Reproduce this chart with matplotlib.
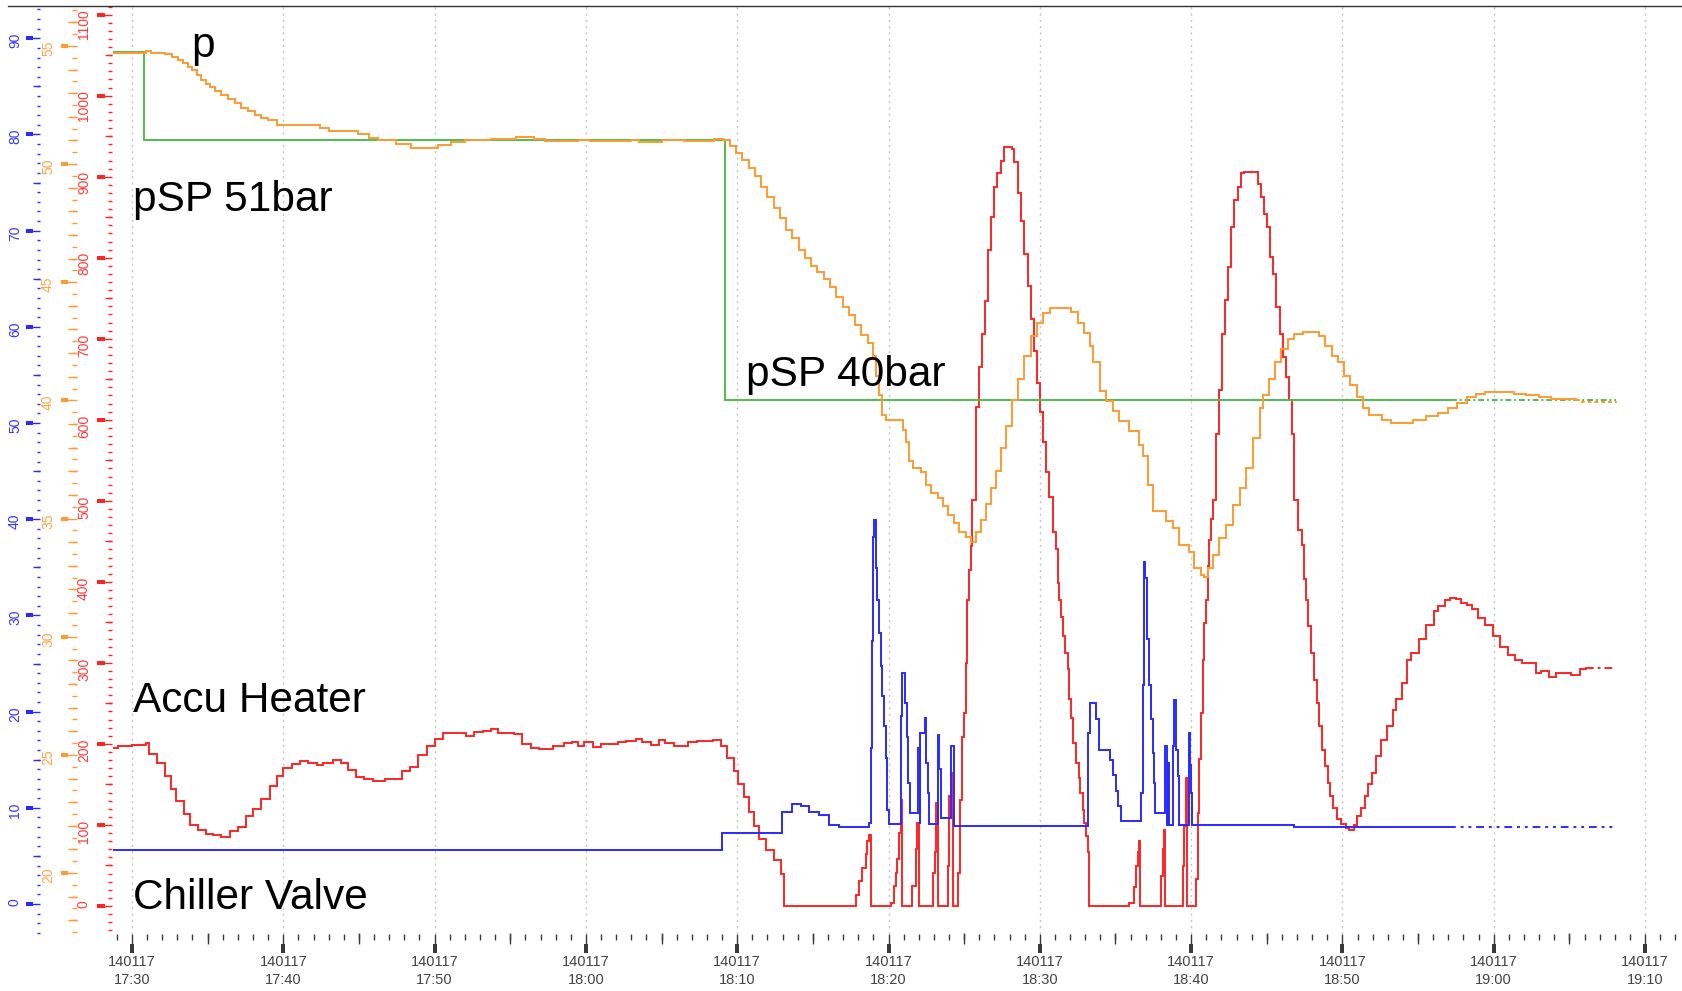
import matplotlib
matplotlib.use("Agg")
import matplotlib.pyplot as plt
from matplotlib.ticker import MultipleLocator, FixedLocator, FixedFormatter, FuncFormatter
from matplotlib.lines import Line2D
from matplotlib import font_manager

# ---------------- data (minutes after 17:30, value) ----------------
date_label = "140117"
tick_minutes = [0, 10, 20, 30, 40, 50, 60, 70, 80, 90, 100]
tick_clock = ["17:30", "17:40", "17:50", "18:00", "18:10", "18:20", "18:30",
              "18:40", "18:50", "19:00", "19:10"]

# Accu Heater (red axis, 0..1100)
heater_pts = [
    (-1.2, 195), (-0.9, 197), (-0.55, 198), (0, 199), (0.9, 201), (1.1, 188), (1.65, 177),
    (2.19, 161), (2.6, 144), (2.88, 130), (3.43, 114), (3.84, 100), (4.39, 94), (4.88, 89),
    (5.35, 87), (5.9, 85.5), (6.45, 93), (7.0, 98), (7.54, 111), (8.01, 120), (8.56, 132),
    (9.11, 148), (9.6, 161), (10.01, 170), (10.56, 175), (11.11, 179), (11.66, 177),
    (12.21, 174), (12.62, 177), (13.31, 180), (13.8, 177), (14.27, 168), (14.81, 159),
    (15.36, 157), (15.91, 154), (16.74, 157), (17.83, 167), (18.38, 172), (18.93, 186),
    (19.48, 198), (20.03, 206), (20.58, 213), (21.12, 214), (22.09, 210), (22.63, 215),
    (23.18, 216.5), (23.73, 219), (24.2, 213.5), (25.24, 212), (25.79, 200), (26.34, 195),
    (26.89, 194), (27.85, 198), (28.53, 201), (29.08, 202), (29.49, 197), (29.9, 202),
    (30.45, 196), (31.0, 200), (32.1, 202), (32.65, 204), (33.33, 206), (33.74, 202),
    (34.29, 199), (34.84, 205), (35.25, 201), (35.8, 197), (36.21, 198), (36.76, 202),
    (37.31, 203), (38.41, 205), (38.9, 198), (39.34, 182), (39.78, 166), (40.05, 151),
    (40.44, 134), (40.77, 116), (41.1, 99), (41.43, 83), (41.88, 69), (42.43, 57),
    (42.87, 40), (43.09, 0),
    (47.83, 14), (48.05, 31), (48.27, 47), (48.49, 64), (48.6, 80), (48.71, 88), (48.82, 0),
    (50.15, 4), (50.37, 25), (50.48, 41), (50.59, 58), (50.7, 90), (50.81, 131), (50.88, 0),
    (51.58, 25), (51.8, 70), (51.91, 103), (52.02, 0),
    (52.91, 41), (53.08, 66), (53.17, 127), (53.24, 0),
    (53.9, 49), (54.01, 136), (54.16, 164), (54.23, 0),
    (54.56, 41), (54.71, 131), (54.89, 209), (55.0, 238), (55.11, 300), (55.22, 378),
    (55.33, 415), (55.44, 444), (55.55, 501), (55.75, 616), (55.96, 665), (56.16, 706),
    (56.37, 747), (56.58, 809), (56.79, 850), (56.99, 887), (57.2, 905), (57.41, 920),
    (57.61, 937), (58.15, 934), (58.28, 918), (58.57, 880), (58.77, 845), (58.98, 805),
    (59.19, 765), (59.39, 725), (59.6, 685), (59.81, 645), (60.02, 610), (60.22, 572),
    (60.43, 535), (60.63, 505), (60.85, 462), (61.07, 440), (61.18, 398), (61.29, 378),
    (61.4, 357), (61.51, 333), (61.69, 312), (61.84, 292), (61.95, 255), (62.06, 232),
    (62.21, 201), (62.39, 177), (62.57, 158), (62.68, 140), (62.83, 119), (62.94, 103),
    (63.05, 86), (63.16, 66), (63.23, 0),
    (65.92, 4), (66.25, 23), (66.36, 49), (66.47, 66), (66.58, 80), (66.65, 0),
    (68.02, 37), (68.13, 70), (68.2, 94), (68.26, 0),
    (69.45, 49), (69.56, 99), (69.67, 158), (69.74, 0),
    (70.33, 33), (70.44, 115), (70.55, 181), (70.66, 238), (70.77, 304), (70.88, 349),
    (70.99, 378), (71.1, 419), (71.21, 452), (71.33, 477), (71.44, 501), (71.62, 583),
    (71.83, 637), (72.04, 706), (72.24, 748), (72.45, 789), (72.66, 838), (72.86, 871),
    (73.07, 887), (73.28, 904), (73.49, 906), (74.23, 906), (74.4, 891), (74.6, 875),
    (74.81, 854), (75.02, 838), (75.23, 801), (75.43, 780), (75.64, 739), (75.85, 706),
    (76.06, 678), (76.26, 653), (76.47, 624), (76.68, 583), (76.82, 501), (77.06, 464),
    (77.31, 446), (77.43, 403), (77.6, 378), (77.73, 345), (77.92, 312), (78.12, 279),
    (78.29, 251), (78.46, 222), (78.66, 193), (78.85, 173), (79.03, 152), (79.2, 136),
    (79.39, 121), (79.64, 107), (79.88, 101), (80.25, 96.5), (80.42, 93.3), (80.74, 99.4),
    (80.99, 111), (81.23, 121), (81.48, 136), (81.72, 150), (81.97, 164), (82.21, 185),
    (82.58, 205), (82.95, 222), (83.32, 242), (83.56, 255), (83.93, 275), (84.3, 304),
    (84.55, 312), (85.04, 329), (85.53, 347), (86.02, 364), (86.31, 370), (86.75, 378),
    (87.12, 380), (87.49, 379), (87.86, 374), (88.22, 372), (88.59, 366), (88.96, 355),
    (89.45, 347), (89.94, 333), (90.43, 320), (90.92, 310), (91.41, 304), (91.9, 300),
    (92.39, 300), (92.76, 288), (93.13, 290), (93.62, 283), (94.11, 288), (95.09, 285),
    (95.71, 292), (96.07, 294), (98.1, 294),
]
heater_solid_end = 96.07

# Chiller Valve (blue axis, 0..90)
chiller_pts = [
    (-1.2, 5.6), (39.0, 7.4), (42.98, 9.6), (43.64, 10.4), (44.19, 10.15), (44.74, 9.56),
    (45.4, 9.3), (46.07, 8.2), (46.73, 8.0), (48.71, 8.4), (48.82, 16.2), (48.89, 27.3),
    (48.98, 38.2), (49.07, 39.9), (49.16, 34.9), (49.27, 31.6), (49.38, 28.2), (49.49, 24.7),
    (49.6, 21.6), (49.71, 18.5), (49.82, 15.2), (49.93, 9.8), (50.04, 8.35), (50.81, 19.5),
    (50.9, 24.0), (51.1, 20.9), (51.21, 17.4), (51.32, 12.6), (51.41, 9.46), (51.98, 16.2),
    (52.05, 8.3), (52.1, 17.8), (52.4, 19.3), (52.51, 14.7), (52.62, 11.5), (52.68, 8.35),
    (53.24, 17.6), (53.35, 14.0), (53.46, 8.94), (54.12, 16.4), (54.3, 8.07), (63.05, 8.07),
    (63.16, 17.8), (63.32, 20.9), (63.71, 19.2), (63.89, 17.4), (63.93, 16.0), (64.64, 15.0),
    (64.82, 13.4), (65.04, 11.7), (65.19, 10.15), (65.37, 8.6), (66.69, 11.5), (66.8, 22.8),
    (66.87, 35.6), (66.98, 33.9), (67.09, 27.5), (67.24, 22.8), (67.36, 19.2), (67.47, 15.7),
    (67.53, 12.6), (67.58, 9.46), (68.3, 16.4), (68.39, 8.25), (68.46, 14.7), (68.52, 11.5),
    (68.57, 8.25), (68.79, 16.4), (68.86, 21.2), (69.01, 16.0), (69.12, 13.3), (69.23, 8.25),
    (69.85, 17.8), (69.94, 14.5), (70.0, 11.5), (70.07, 8.2), (76.82, 8.0), (87.0, 8.0),
    (97.9, 8.0),
]
chiller_solid_end = 87.0

# p (orange axis, bar)
p_pts = [
    (-1.2, 54.72), (0.94, 54.79), (1.24, 54.72), (2.21, 54.64), (2.66, 54.53), (3.04, 54.42),
    (3.39, 54.28), (3.69, 54.11), (3.99, 53.97), (4.28, 53.78), (4.58, 53.57), (4.87, 53.40),
    (5.17, 53.26), (5.52, 53.09), (5.90, 52.91), (6.35, 52.74), (6.79, 52.60), (7.23, 52.38),
    (7.68, 52.24), (8.12, 52.06), (8.56, 51.96), (9.0, 51.85), (9.59, 51.64), (12.4, 51.54),
    (12.99, 51.40), (14.91, 51.28), (15.65, 51.11), (16.24, 51.03), (17.42, 50.83),
    (18.45, 50.69), (20.22, 50.79), (21.11, 50.93), (21.99, 51.03), (23.76, 51.07),
    (25.39, 51.14), (26.57, 51.04), (27.31, 50.97), (29.5, 51.0), (30.3, 50.97), (33.0, 51.0),
    (33.5, 50.95), (35.0, 51.0), (36.5, 50.97), (37.4, 50.99), (38.47, 51.05), (39.09, 51.0),
    (39.5, 50.75), (39.92, 50.48), (40.33, 50.19), (40.75, 49.85), (41.16, 49.5),
    (41.57, 49.02), (41.99, 48.6), (42.4, 48.12), (42.82, 47.7), (43.23, 47.22),
    (43.65, 46.87), (44.06, 46.38), (44.48, 46.04), (44.89, 45.69), (45.3, 45.42),
    (45.72, 45.14), (46.13, 44.79), (46.55, 44.38), (46.96, 43.96), (47.38, 43.61),
    (47.79, 43.2), (48.21, 42.78), (48.62, 42.44), (48.95, 41.88), (49.16, 41.05),
    (49.37, 40.22), (49.6, 39.39), (49.82, 39.18), (50.6, 39.18), (50.93, 38.76),
    (51.15, 38.26), (51.37, 37.42), (51.59, 37.13), (52.14, 36.99), (52.47, 36.43),
    (52.8, 36.07), (53.24, 35.86), (53.57, 35.51), (53.9, 35.16), (54.34, 34.8),
    (54.67, 34.45), (55.12, 34.24), (55.45, 34.0), (55.78, 34.45), (56.11, 34.95),
    (56.44, 35.6), (56.77, 36.3), (57.1, 37.0), (57.43, 38.0), (57.76, 38.9), (58.15, 40.0),
    (58.57, 40.91), (58.98, 41.88), (59.39, 42.72), (59.81, 43.27), (60.22, 43.68),
    (60.64, 43.89), (61.67, 43.89), (62.09, 43.75), (62.5, 43.27), (62.92, 42.85),
    (63.33, 42.3), (63.54, 41.61), (63.95, 40.4), (64.38, 39.96), (64.82, 39.53),
    (65.26, 39.11), (65.92, 38.69), (66.58, 38.12), (66.8, 37.63), (67.13, 36.43),
    (67.46, 35.3), (68.35, 34.9), (68.79, 34.59), (69.23, 33.88), (69.89, 33.6),
    (70.22, 32.9), (70.66, 32.61), (70.88, 32.54), (71.1, 32.9), (71.43, 33.47),
    (71.87, 34.17), (72.32, 34.73), (72.76, 35.58), (73.2, 36.29), (73.64, 37.13),
    (74.08, 38.4), (74.52, 39.67), (74.74, 40.24), (75.14, 40.91), (75.56, 41.61),
    (75.97, 42.16), (76.39, 42.58), (76.8, 42.83), (77.42, 42.89), (78.46, 42.72),
    (78.87, 42.3), (79.29, 41.88), (79.7, 41.61), (80.12, 41.05), (80.53, 40.64),
    (80.95, 40.15), (81.36, 39.67), (81.78, 39.39), (82.6, 39.18), (83.22, 39.04),
    (84.67, 39.18), (85.5, 39.32), (86.33, 39.46), (86.95, 39.67), (87.57, 39.88),
    (88.2, 40.15), (88.82, 40.29), (89.44, 40.36), (91.31, 40.25), (92.13, 40.22),
    (92.96, 40.15), (93.79, 40.06), (95.45, 40.0), (95.86, 39.92), (98.1, 39.87),
]
p_solid_end = 95.45

# pSP set point (orange axis, bar)
psp_pts = [(-1.2, 54.76), (0.78, 51.0), (39.18, 40.0), (87.2, 40.0), (98.1, 40.0)]
psp_solid_end = 87.2

# ---------------- styling ----------------
W, H = 1682, 991
PT = 72.0 / 100.0  # points per pixel at dpi 100

names = {f.name for f in font_manager.fontManager.ttflist}
narrow = "Liberation Sans Narrow" if "Liberation Sans Narrow" in names else "Liberation Sans"
plt.rcParams["font.family"] = [narrow, "DejaVu Sans"]

C_RED, C_BLUE, C_OR, C_GREEN = "#ff2424", "#2a2aff", "#ff9a30", "#4cc04c"
L_RED, L_BLUE, L_OR = "#ff3a3a", "#3535ff", "#ffa548"
DARK = "#3a3a3a"

fig = plt.figure(figsize=(W / 100, H / 100), dpi=100)
left_px, right_px, top_px, bottom_px = 112, 1680, 5.5, 934
ax = fig.add_axes([left_px / W, 1 - bottom_px / H,
                   (right_px - left_px) / W, (bottom_px - top_px) / H])
ax.set_xlim(-1.32, 102.31)

red_lim = (-34.6, 1111.3)
blue_lim = (-3.12, 93.41)
or_lim = (17.42, 56.71)

ax_blue = ax.twinx()
ax_blue_b = ax.twinx()
ax_or = ax.twinx()
ax_or_b = ax.twinx()
ax_red_b = ax.twinx()
ax_x = ax.twiny()

for a in (ax, ax_blue, ax_blue_b, ax_or, ax_or_b, ax_red_b, ax_x):
    for s in a.spines.values():
        s.set_visible(False)


def y_axis(a, b, lim, off_a, off_b, minor, mid, major, len_major, len_minor,
           len_block, len_mid, tcolor, lcolor, pad, fsize):
    for q in (a, b):
        q.set_ylim(*lim)
        q.yaxis.set_ticks_position("left")
    a.spines["left"].set_position(("outward", off_a * PT))
    a.yaxis.set_major_locator(MultipleLocator(major))
    a.yaxis.set_minor_locator(MultipleLocator(minor))
    a.yaxis.set_major_formatter(FuncFormatter(lambda v, p: f"{v:.0f}"))
    a.tick_params(axis="y", which="major", direction="out", length=len_major * PT,
                  width=1.0, color=tcolor, labelcolor=lcolor, pad=pad * PT,
                  labelsize=fsize, labelrotation=90, left=True, right=False,
                  labelleft=True, labelright=False)
    a.tick_params(axis="y", which="minor", direction="out", length=len_minor * PT,
                  width=1.0, color=tcolor, left=True, right=False)
    b.spines["left"].set_position(("outward", off_b * PT))
    b.yaxis.set_major_locator(MultipleLocator(major))
    b.yaxis.set_minor_locator(MultipleLocator(mid))
    b.tick_params(axis="y", which="major", direction="out", length=len_block * PT,
                  width=4 * PT, color=tcolor, left=True, right=False,
                  labelleft=False, labelright=False)
    b.tick_params(axis="y", which="minor", direction="in", length=len_mid * PT,
                  width=1.0, color=tcolor, left=True, right=False)


y_axis(ax_blue, ax_blue_b, blue_lim, 72, 79, 1, 5, 10, 14, 3, 7, 7,
       C_BLUE, L_BLUE, 4, 10)
y_axis(ax_or, ax_or_b, or_lim, 35, 44, 0.5, 1, 5, 16, 5, 7, 9,
       C_OR, L_OR, 6, 10)
y_axis(ax, ax_red_b, red_lim, 0, 7, 10, 50, 100, 15, 4, 8, 7,
       C_RED, L_RED, 6, 10)

# x axis: thin ticks + grid on main, thick blocks + labels on a twin
ax.xaxis.set_major_locator(FixedLocator(tick_minutes))
ax.xaxis.set_minor_locator(MultipleLocator(1))
ax.tick_params(axis="x", which="major", direction="out", length=11 * PT, width=1.0,
               color=DARK, labelbottom=False)
ax.tick_params(axis="x", which="minor", direction="out", length=6 * PT, width=1.0,
               color=DARK)
ax.grid(axis="x", which="major", color="#c4c4c4", linestyle=(0, (1.5, 3)), linewidth=1.0)

ax_x.set_xlim(ax.get_xlim())
ax_x.xaxis.set_ticks_position("bottom")
ax_x.xaxis.set_label_position("bottom")
ax_x.spines["bottom"].set_position(("outward", 10 * PT))
ax_x.xaxis.set_major_locator(FixedLocator(tick_minutes))
ax_x.xaxis.set_major_formatter(FixedFormatter([f"{date_label}\n{c}" for c in tick_clock]))
ax_x.xaxis.set_minor_locator(MultipleLocator(5))
ax_x.tick_params(axis="x", which="major", direction="out", length=9 * PT, width=4 * PT,
                 color=DARK, labelcolor="#444444", labelsize=10.5, pad=2 * PT,
                 bottom=True, top=False, labelbottom=True, labeltop=False)
ax_x.tick_params(axis="x", which="minor", direction="in", length=11 * PT, width=1.0,
                 color=DARK, bottom=True, top=False)
for lab in ax_x.get_xticklabels():
    lab.set_linespacing(1.4)


def draw(a, pts, t_end, color, tail_style):
    solid = [(t, v) for t, v in pts if t <= t_end]
    tail = [(t, v) for t, v in pts if t >= t_end]
    ts, vs = zip(*solid)
    a.plot(ts, vs, drawstyle="steps-post", color=color, lw=1.4, solid_joinstyle="miter")
    if len(tail) > 1:
        tt, tv = zip(*tail)
        a.plot(tt, tv, drawstyle="steps-post", color=color, lw=1.4, linestyle=tail_style)


draw(ax, heater_pts, heater_solid_end, C_RED, (0, (4, 2, 1.5, 2)))
draw(ax_blue, chiller_pts, chiller_solid_end, C_BLUE, (0, (4, 2.5, 1.5, 2.5, 1.5, 2.5)))
draw(ax_or, psp_pts, psp_solid_end, C_GREEN, (0, (3, 1.5, 1, 1.5)))
draw(ax_or, p_pts, p_solid_end, C_OR, (0, (2, 1.5)))

# annotations
big = dict(fontsize=30.5, color="black", family=["Liberation Sans", "DejaVu Sans"],
           va="baseline", ha="left")
ax_or.text(3.95, 54.55, "p", **big)
ax_or.text(0.07, 48.02, "pSP 51bar", **big)
ax_or.text(40.58, 40.61, "pSP 40bar", **big)
ax.text(0.07, 239.4, "Accu Heater", **big)
ax.text(0.06, -3.2, "Chiller Valve", **big)

# top border line
fig.add_artist(Line2D([8 / W, 1.0], [1 - 5.5 / H, 1 - 5.5 / H], transform=fig.transFigure,
                      color="#333333", lw=1.0))

fig.savefig("out.png", dpi=100, facecolor="white")
